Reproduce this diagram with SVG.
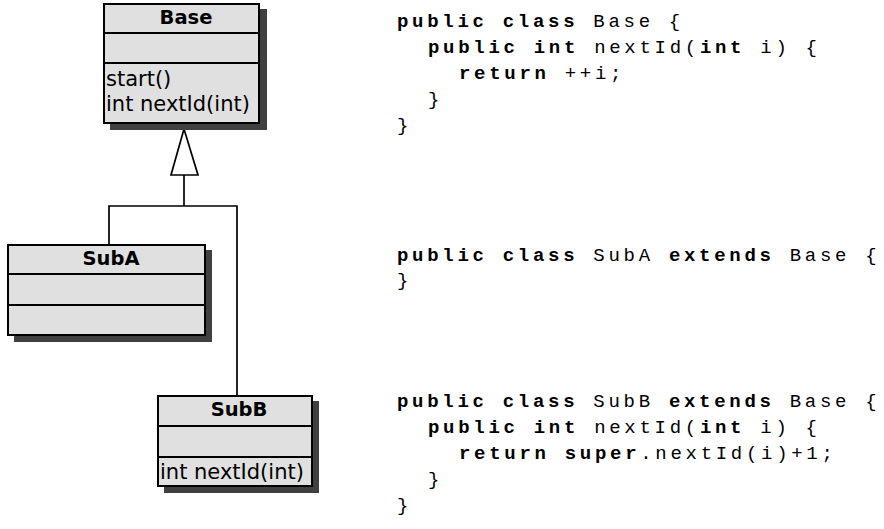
<svg xmlns="http://www.w3.org/2000/svg" width="884" height="529" viewBox="0 0 884 529">
<style>
.box{fill:#e0e0e0;stroke:#000;stroke-width:2}
.shadow{fill:#404040}
.div{stroke:#000;stroke-width:2}
.title{font-family:"DejaVu Sans",sans-serif;font-weight:bold;font-size:19.5px;text-anchor:middle;fill:#000}
.mem{font-family:"DejaVu Sans",sans-serif;font-size:21px;fill:#000}
.conn{fill:none;stroke:#000;stroke-width:1.7}
.code{font-family:"Liberation Mono",monospace;font-size:19px;letter-spacing:3.7px;fill:#000}
.kw{font-weight:bold}
</style>
<rect width="884" height="529" fill="#fff"/>
<g id="connectors">
<polyline class="conn" points="109,244 109,206 237,206 237,395"/>
<line class="conn" x1="184" y1="175" x2="184" y2="206"/>
<polygon class="conn" points="184,129 171,175 198,175" fill="#fff"/>
</g>
<g id="Base">
<rect class="shadow" x="110" y="9" width="157" height="121"/>
<rect class="box" x="104" y="4" width="155" height="119"/>
<line class="div" x1="104" y1="33" x2="259" y2="33"/>
<line class="div" x1="104" y1="63" x2="259" y2="63"/>
<text class="title" x="186" y="24">Base</text>
<text class="mem" x="106" y="86">start()</text>
<text class="mem" x="106" y="111">int nextId(int)</text>
</g>
<g id="SubA">
<rect class="shadow" x="14" y="250" width="198" height="92"/>
<rect class="box" x="8" y="245" width="197" height="90"/>
<line class="div" x1="8" y1="274" x2="205" y2="274"/>
<line class="div" x1="8" y1="305" x2="205" y2="305"/>
<text class="title" x="111" y="265">SubA</text>
</g>
<g id="SubB">
<rect class="shadow" x="164" y="401" width="155" height="92"/>
<rect class="box" x="158" y="396" width="154" height="90"/>
<line class="div" x1="158" y1="426" x2="312" y2="426"/>
<line class="div" x1="158" y1="457" x2="312" y2="457"/>
<text class="title" x="239" y="416">SubB</text>
<text class="mem" x="160" y="479">int nextId(int)</text>
</g>
<g id="code-Base">
<text class="code" x="397" y="27"><tspan class="kw">public</tspan> <tspan class="kw">class</tspan> Base {</text>
<text class="code" x="428" y="53"><tspan class="kw">public</tspan> <tspan class="kw">int</tspan> nextId(<tspan class="kw">int</tspan> i) {</text>
<text class="code" x="459" y="79"><tspan class="kw">return</tspan> ++i;</text>
<text class="code" x="428" y="105">}</text>
<text class="code" x="397" y="131">}</text>
</g>
<g id="code-SubA">
<text class="code" x="397" y="261"><tspan class="kw">public</tspan> <tspan class="kw">class</tspan> SubA <tspan class="kw">extends</tspan> Base {</text>
<text class="code" x="397" y="286">}</text>
</g>
<g id="code-SubB">
<text class="code" x="397" y="407"><tspan class="kw">public</tspan> <tspan class="kw">class</tspan> SubB <tspan class="kw">extends</tspan> Base {</text>
<text class="code" x="428" y="433"><tspan class="kw">public</tspan> <tspan class="kw">int</tspan> nextId(<tspan class="kw">int</tspan> i) {</text>
<text class="code" x="459" y="459"><tspan class="kw">return</tspan> <tspan class="kw">super</tspan>.nextId(i)+1;</text>
<text class="code" x="428" y="485">}</text>
<text class="code" x="397" y="511">}</text>
</g>
</svg>
